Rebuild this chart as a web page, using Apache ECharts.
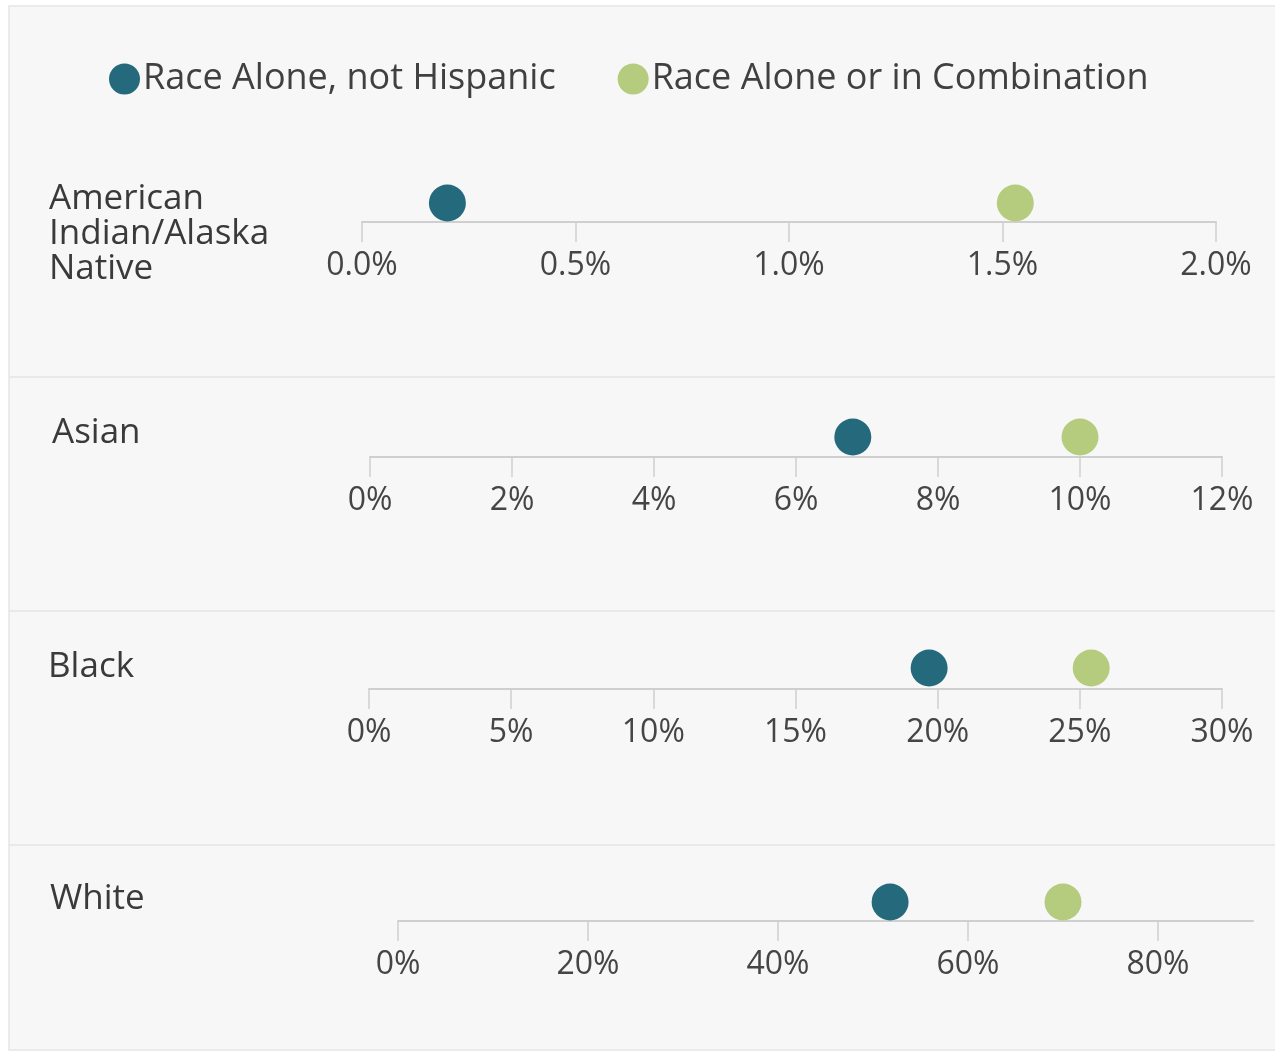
<!DOCTYPE html>
<html>
<head>
<meta charset="utf-8">
<script src="https://cdn.jsdelivr.net/npm/echarts@6/dist/echarts.min.js"></script>
<style>
  html, body { margin: 0; padding: 0; background: #fff; }
  #chart { width: 1275px; height: 1052px; }
</style>
</head>
<body>
<div id="chart"></div>
<script>
// race groups, one panel each
const categories = ['American\nIndian/Alaska\nNative', 'Asian', 'Black', 'White']
const raceAlone = [0.2, 6.8, 19.7, 51.8]        // Race Alone, not Hispanic (%)
const raceCombo = [1.53, 10.0, 25.4, 70.0]      // Race Alone or in Combination (%)
const axisMax = [2.0, 12, 30, 90]
const axisStep = [0.5, 2, 5, 20]
const axisDecimals = [1, 0, 0, 0]
const seriesNames = ['Race Alone, not Hispanic', 'Race Alone or in Combination']

const colors = ['#246a7c', '#b5cc7e']
const font = '"Open Sans", "Noto Sans", sans-serif'

// panel layout: [left, width, top, height]
const panels = [
  [362, 854, 184, 38],
  [370, 852, 417, 40],
  [369, 853, 647, 42],
  [398, 855, 883, 38]
]
const labelPos = [[49, 182], [52, 416], [48, 650], [50, 882]]

function tickValues(max, step) {
  const vals = []
  for (let k = 0; k * step <= max + 1e-9; k++) vals.push(+(k * step).toFixed(4))
  return vals
}

const chart = echarts.init(document.getElementById('chart'))

const grids = [], xAxes = [], yAxes = [], series = [], titles = []
categories.forEach((cat, i) => {
  const p = panels[i]
  // last panel stops its ticks at 80% though the axis runs on to 90%
  const ticks = tickValues(axisMax[i] - (i === 3 ? axisStep[i] / 2 : 0), axisStep[i])
  grids.push({ left: p[0], width: p[1], top: p[2], height: p[3] })
  xAxes.push({
    type: 'value',
    gridIndex: i,
    min: 0,
    max: axisMax[i],
    position: 'bottom',
    splitLine: { show: false },
    axisLine: { show: true, lineStyle: { color: '#cfcfcf', width: 2 } },
    axisTick: {
      show: true, length: 20, customValues: ticks,
      lineStyle: { color: '#cfcfcf', width: 1.5 }
    },
    axisLabel: {
      margin: 28,
      color: '#454545',
      fontFamily: font,
      fontSize: 32,
      customValues: ticks,
      formatter: v => v.toFixed(axisDecimals[i]) + '%'
    }
  })
  yAxes.push({
    type: 'category',
    gridIndex: i,
    data: [cat],
    show: false
  })
  series.push({
    name: seriesNames[0],
    type: 'scatter',
    xAxisIndex: i,
    yAxisIndex: i,
    symbolSize: 37,
    itemStyle: { color: colors[0], opacity: 1 },
    data: [[raceAlone[i], 0]]
  })
  series.push({
    name: seriesNames[1],
    type: 'scatter',
    xAxisIndex: i,
    yAxisIndex: i,
    symbolSize: 37,
    itemStyle: { color: colors[1], opacity: 1 },
    data: [[raceCombo[i], 0]]
  })
  titles.push({
    text: cat,
    left: labelPos[i][0],
    top: labelPos[i][1],
    padding: 0,
    textStyle: {
      color: '#3a3a3a',
      fontFamily: font,
      fontSize: 35,
      fontWeight: 'normal',
      lineHeight: 35
    }
  })
})

// panel separators and frame
const graphics = [
  { type: 'rect', shape: { x: 9, y: 6, width: 1270, height: 1044 },
    style: { fill: '#f7f7f7', stroke: '#e6e6e6', lineWidth: 1.5 }, z: -10 }
]
;[377, 611, 845].forEach(y => {
  graphics.push({ type: 'line', shape: { x1: 9, y1: y, x2: 1275, y2: y },
    style: { stroke: '#e4e4e4', lineWidth: 1.5 }, z: -5 })
})

chart.setOption({
  animation: false,
  title: titles,
  legend: {
    data: seriesNames,
    left: 104,
    top: 56,
    icon: 'circle',
    itemWidth: 31,
    itemHeight: 31,
    itemGap: 62,
    textStyle: { color: '#404040', fontFamily: font, fontSize: 36, padding: [0, 0, 0, -2] }
  },
  grid: grids,
  xAxis: xAxes,
  yAxis: yAxes,
  graphic: graphics,
  series: series
})
</script>
</body>
</html>
